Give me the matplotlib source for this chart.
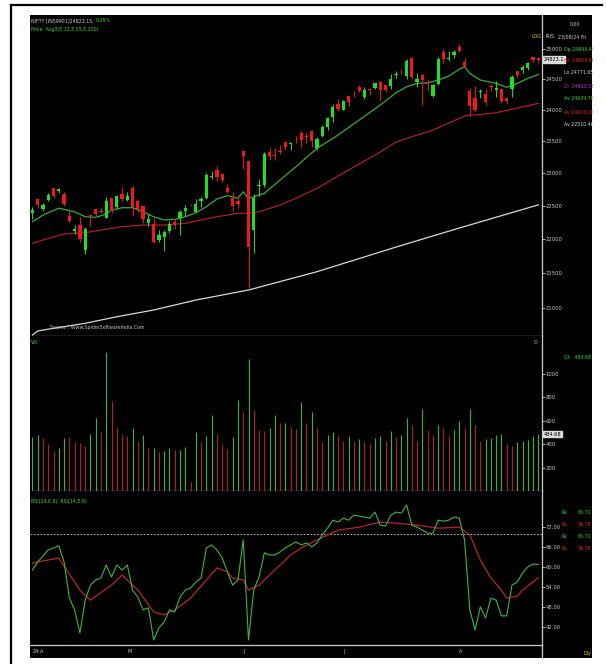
import matplotlib
matplotlib.use("Agg")
import matplotlib.pyplot as plt
import matplotlib.transforms as mtransforms
from matplotlib import font_manager
from matplotlib.lines import Line2D
from matplotlib.patches import Rectangle
from matplotlib.ticker import NullLocator

# NIFTY daily candles, 03 Apr 2024 .. 23 Aug 2024 (day index 0 .. 96)
opens = [22385, 22592, 22446, 22579, 22765, 22720, 22677, 22339, 22125, 22212,
         21830, 22350, 22447, 22421, 22316, 22620, 22475, 22679, 22580, 22766,
         22562, 22489, 22231, 22224, 21990, 22027, 22112, 22255, 22319, 22415,
         22512, 22404, 22576, 22614, 22930, 23038, 22977, 22763, 22617, 22568,
         23337, 23179, 22128, 22798, 22821, 23319, 23283, 23344, 23480, 23445,
         23570, 23629, 23586, 23661, 23382, 23577, 23724, 23881, 24086, 23993,
         24228, 24291, 24369, 24213, 24329, 24351, 24459, 24400, 24388, 24573,
         24615, 24543, 24854, 24445, 24568, 24444, 24230, 24423, 24943, 24839,
         24892, 25030, 24789, 24302, 24189, 24289, 24248, 24387, 24320, 24342,
         24184, 24334, 24636, 24648, 24680, 24864, 24845]
highs = [22475, 22619, 22540, 22697, 22768, 22775, 22704, 22427, 22213, 22326,
         22180, 22376, 22447, 22476, 22625, 22620, 22655, 22783, 22711, 22794,
         22588, 22499, 22368, 22307, 22131, 22132, 22270, 22298, 22432, 22503,
         22525, 22592, 22629, 22994, 23026, 23111, 22999, 22826, 22705, 22653,
         23338, 23179, 22671, 22910, 23320, 23412, 23389, 23441, 23481, 23490,
         23579, 23664, 23625, 23667, 23558, 23754, 23889, 24087, 24174, 24164,
         24236, 24309, 24401, 24363, 24345, 24443, 24461, 24402, 24592, 24635,
         24661, 24838, 24854, 24595, 24583, 24504, 24427, 24861, 24999, 24971,
         24984, 25078, 24851, 24350, 24382, 24337, 24340, 24420, 24472, 24359,
         24196, 24563, 24638, 24734, 24787, 24867, 24858]
lows = [22300, 22470, 22410, 22563, 22612, 22690, 22494, 22259, 22079, 21961,
        21777, 22198, 22349, 22384, 22305, 22385, 22441, 22568, 22568, 22348,
        22409, 22232, 22185, 21933, 21950, 21821, 22081, 22151, 22054, 22345,
        22495, 22404, 22483, 22601, 22908, 22872, 22858, 22685, 22417, 22465,
        23062, 21281, 21791, 22642, 22789, 23206, 23206, 23295, 23353, 23354,
        23473, 23412, 23470, 23398, 23350, 23562, 23673, 23805, 23985, 23992,
        24056, 24207, 24281, 24168, 24240, 24331, 24141, 24286, 24331, 24522,
        24588, 24504, 24508, 24362, 24074, 24307, 24211, 24410, 24774, 24798,
        24856, 24956, 24687, 23893, 23960, 24184, 24079, 24311, 24212, 24116,
        24099, 24204, 24522, 24607, 24654, 24784, 24772]
closes = [22434, 22515, 22514, 22666, 22642, 22754, 22519, 22272, 22147, 21996,
          22147, 22336, 22368, 22402, 22570, 22420, 22643, 22605, 22648, 22476,
          22442, 22303, 22302, 21958, 22055, 22104, 22218, 22201, 22404, 22466,
          22502, 22529, 22597, 22968, 22957, 22932, 22888, 22704, 22488, 22530,
          23264, 21884, 22620, 22821, 23290, 23259, 23264, 23323, 23399, 23466,
          23558, 23516, 23567, 23501, 23538, 23721, 23868, 24044, 24011, 24141,
          24124, 24286, 24302, 24324, 24320, 24433, 24324, 24316, 24502, 24587,
          24613, 24801, 24531, 24509, 24479, 24414, 24406, 24835, 24837, 24857,
          24951, 24968, 24718, 24056, 23993, 24298, 24117, 24368, 24347, 24139,
          24144, 24541, 24573, 24698, 24770, 24811, 24823]

volumes = [458, 481, 452, 401, 343, 363, 452, 458, 415, 406,
           386, 486, 624, 501, 1182, 767, 544, 486, 472, 538,
           429, 481, 366, 363, 329, 343, 366, 349, 349, 378,
           80, 506, 415, 466, 652, 486, 401, 358, 458, 772,
           672, 1130, 692, 521, 515, 535, 652, 578, 578, 549,
           529, 758, 578, 678, 544, 415, 480, 500, 470, 430,
           470, 430, 440, 420, 400, 450, 470, 430, 510, 460,
           480, 620, 560, 430, 700, 520, 480, 560, 540, 470,
           520, 600, 540, 700, 560, 429, 443, 452, 481, 486,
           401, 386, 415, 423, 435, 469, 485]
vol_colors = ("ggrrrggrrrrggrgrrrrgrgrgrggrggrgrggrrrggrgrrrggrgrrgrgrr"
              "ggrrgrgrrggrgrggrrgrrgrrggrgr"
              "rggggrrggggg")

# moving averages (day index, value)
ema13_days = [0, 2, 5, 8, 10, 12, 14, 15, 17, 19, 21, 23, 25, 27, 29, 31, 33, 35, 37, 39,
              40, 41, 42, 44, 47, 50, 54, 58, 62, 66, 69, 71, 73, 75, 77, 79, 81, 82, 83, 85,
              88, 90, 92, 94, 96]
ema13_vals = [22256, 22357, 22460, 22406, 22331, 22322, 22372, 22432, 22467, 22467,
              22406, 22331, 22282, 22292, 22331, 22391, 22482, 22600, 22650, 22610,
              22710, 22610, 22634, 22686, 22890, 23096, 23384, 23594, 23833, 24075,
              24275, 24373, 24429, 24439, 24484, 24550, 24661, 24704, 24594, 24484,
              24429, 24364, 24429, 24512, 24575]
ema55_days = [0, 2, 6, 10, 13, 17, 21, 25, 29, 32, 35, 39, 41, 43, 47, 50, 54, 58, 62, 66,
              69, 73, 76, 82, 88, 96]
ema55_vals = [21935, 21984, 22073, 22092, 22132, 22182, 22207, 22207, 22232, 22282,
              22331, 22383, 22383, 22406, 22508, 22610, 22762, 22952, 23138, 23325,
              23483, 23594, 23673, 23898, 23951, 24103]
ema200_days = [0, 1, 4, 10, 16, 23, 31, 41, 54, 69, 81, 96]
ema200_vals = [20622, 20678, 20715, 20785, 20877, 20972, 21113, 21256, 21520, 21880,
               22162, 22510]

# RSI(14) and its 9 day signal
rsi = [59.1, 61.5, 63.3, 65.1, 65.7, 66.3, 61.5, 50.7, 47.2, 40.3,
       50.1, 54.6, 56.1, 56.7, 60.6, 57.0, 60.6, 59.1, 60.6, 53.1,
       51.0, 47.2, 47.8, 38.2, 41.8, 43.6, 47.2, 46.6, 51.0, 53.1,
       53.7, 55.5, 56.7, 65.7, 66.6, 65.1, 62.7, 58.5, 54.6, 56.1,
       68.1, 38.2, 53.1, 57.0, 64.2, 63.6, 63.6, 64.5, 65.7, 66.6,
       67.5, 66.6, 67.2, 66.0, 67.2, 69.6, 71.6, 74.0, 73.4, 74.6,
       74.0, 75.5, 75.2, 74.9, 74.6, 76.4, 72.5, 72.2, 75.5, 76.4,
       76.1, 78.5, 72.5, 71.9, 71.0, 70.1, 70.1, 74.0, 73.7, 74.0,
       74.9, 74.6, 68.1, 47.2, 41.2, 48.1, 44.8, 50.7, 50.1, 45.4,
       45.4, 54.6, 55.5, 58.2, 60.0, 60.9, 60.71]
rsi_sig_days = [0, 5, 9, 11, 15, 17, 20, 23, 25, 27, 30, 33, 35, 37, 38, 40, 41, 43, 45, 47,
                49, 51, 54, 58, 62, 66, 69, 73, 77, 81, 83, 85, 87, 89, 90, 92, 93, 96]
rsi_sig_vals = [61.2, 62.7, 53.1, 50.1, 54.6, 57.6, 53.1, 46.6, 45.7, 47.2,
                50.7, 56.1, 59.7, 58.5, 56.7, 56.1, 53.1, 54.6, 57.6, 60.6,
                63.6, 65.7, 68.1, 71.0, 71.9, 73.4, 73.1, 72.5, 71.6, 71.9,
                69.6, 62.1, 56.7, 53.1, 50.7, 51.3, 53.1, 56.76]

month_days = [0, 18, 40, 59, 81]
month_labels = ["24:A", "M", "J", "J", "A"]

price_ticks = [21000, 21500, 22000, 22500, 23000, 23500, 24000, 24500, 25000]
vol_ticks = [200, 400, 600, 800, 1000]
rsi_ticks = [42, 48, 54, 60, 66, 72]

W, H = 606, 664
GREEN = "#1fe01f"
RED = "#f01818"
GREY = "#c8c8c8"


def pick_font():
  """Use a narrow face when one is installed, like the terminal font."""
  names = {f.name for f in font_manager.fontManager.ttflist}
  if "Liberation Sans Narrow" in names:
    return "Liberation Sans Narrow", 1.0
  return "DejaVu Sans", 0.72


FONT, SCALE = pick_font()
plt.rcParams["font.family"] = [FONT, "DejaVu Sans"]


def px_rect(x0, y0, x1, y1):
  return [x0 / W, 1 - y1 / H, (x1 - x0) / W, (y1 - y0) / H]


def ftext(fig, x, y, s, color, size=4.7, clip=False, **kw):
  t = fig.text(x / W, 1 - y / H, s, color=color, fontsize=size * SCALE,
               va="center", ha="left", zorder=5, **kw)
  if clip:
    # the terminal cuts the side column at the edge of the black area
    box = mtransforms.TransformedBbox(
      mtransforms.Bbox.from_extents(0, 0, 593 / W, 1), fig.transFigure)
    t.set_clip_box(box)
    t.set_clip_on(True)
  return t


def style_axes(ax):
  ax.set_facecolor("black")
  ax.set_xlim(-0.47, 96.7)
  ax.set_xticks([])
  for side in ["left", "top"]:
    ax.spines[side].set_visible(False)
  for side in ["right", "bottom"]:
    ax.spines[side].set_color(GREY)
    ax.spines[side].set_linewidth(0.9)
  ax.yaxis.tick_right()
  ax.tick_params(axis="y", which="major", length=2, width=0.6, color=GREY,
                 labelcolor=GREY, labelsize=5.2 * SCALE, pad=0.6)
  ax.yaxis.set_minor_locator(NullLocator())


fig = plt.figure(figsize=(W / 100, H / 100), dpi=100)
fig.patch.set_facecolor("white")

# black terminal area and the outer frame lines
fig.patches.append(Rectangle((30 / W, 1 - 658 / H), 562 / W, 643 / H,
                             transform=fig.transFigure, facecolor="black",
                             edgecolor="none", zorder=-10))
fig.add_artist(Line2D([11 / W, 11 / W], [0, 1 - 5 / H], transform=fig.transFigure,
                      color="black", lw=1.6, zorder=-5))
fig.add_artist(Line2D([11 / W, 602 / W], [1 - 5 / H, 1 - 5 / H], transform=fig.transFigure,
                      color="black", lw=1.6, zorder=-5))

ax_p = fig.add_axes(px_rect(30, 15, 542, 336))
ax_v = fig.add_axes(px_rect(30, 336, 542, 491))
ax_r = fig.add_axes(px_rect(30, 491, 542, 645))
for ax in (ax_p, ax_v, ax_r):
  style_axes(ax)

fig.add_artist(Line2D([542 / W, 542 / W], [1 - 658 / H, 1 - 645 / H],
                      transform=fig.transFigure, color=GREY, lw=0.9))

# ---- price panel ----
days = list(range(len(closes)))
ax_p.set_yscale("log")
ax_p.set_ylim(20608, 25580)
ax_p.set_yticks(price_ticks)
ax_p.set_yticklabels([str(t) for t in price_ticks])
ax_p.yaxis.set_minor_locator(NullLocator())

candle_cols = [GREEN if c >= o else RED for o, c in zip(opens, closes)]
ax_p.vlines(days, lows, highs, colors=candle_cols, lw=0.7, zorder=3)
bottoms = [min(o, c) for o, c in zip(opens, closes)]
heights = [max(abs(c - o), 4) for o, c in zip(opens, closes)]
ax_p.bar(days, heights, bottom=bottoms, width=0.62, color=candle_cols,
         edgecolor="none", zorder=4)

ax_p.plot(ema200_days, ema200_vals, color="#d8d8d8", lw=0.9, zorder=2)
ax_p.plot(ema55_days, ema55_vals, color="#a8202a", lw=0.9, zorder=2)
ax_p.plot(ema13_days, ema13_vals, color="#3caa3c", lw=0.9, zorder=2)

blend_p = mtransforms.blended_transform_factory(ax_p.transAxes, ax_p.transData)
ax_p.text(1.004, closes[-1], "24823.1", transform=blend_p, color="black",
          fontsize=5.0 * SCALE, va="center", ha="left", zorder=6, clip_on=False,
          bbox=dict(boxstyle="square,pad=0.15", fc="#dcdcdc", ec="#dcdcdc"))

# ---- volume panel ----
ax_v.set_ylim(0, 1322)
ax_v.set_yticks(vol_ticks)
ax_v.set_yticklabels([str(t) for t in vol_ticks])
vcols = ["#3cb43c" if c == "g" else "#b0202a" for c in vol_colors]
ax_v.vlines(days, 0, volumes, colors=vcols, lw=0.8)
blend_v = mtransforms.blended_transform_factory(ax_v.transAxes, ax_v.transData)
ax_v.text(1.004, 484.68, "484.68", transform=blend_v, color="black",
          fontsize=5.0 * SCALE, va="center", ha="left", zorder=6, clip_on=False,
          bbox=dict(boxstyle="square,pad=0.15", fc="#dcdcdc", ec="#dcdcdc"))

# ---- RSI panel ----
ax_r.set_ylim(36.7, 82.7)
ax_r.set_yticks(rsi_ticks)
ax_r.set_yticklabels(["%.2f" % t for t in rsi_ticks])
ax_r.axhline(70, color="#d0d0d0", lw=0.6, ls=(0, (2, 2)))
ax_r.plot(rsi_sig_days, rsi_sig_vals, color="#b4282d", lw=0.9)
ax_r.plot(days, rsi, color="#40b440", lw=0.8)

blend_r = mtransforms.blended_transform_factory(ax_r.transData, ax_r.transAxes)
for d, lab in zip(month_days, month_labels):
  ax_r.text(d, -0.042, lab, transform=blend_r, color=GREY,
            fontsize=5.0 * SCALE, va="center", ha="left")

# ---- header and side texts ----
ftext(fig, 31, 21, "NIFTY [IN59901]24823.15,", "#d0d0d0")
ftext(fig, 96, 21, "0.05%", "#30e030")
ftext(fig, 31, 30, "Price  Avg3(E,13,E,55,E,200)", "#30e030")
ftext(fig, 50, 328, "Source : Www.SpiderSoftwareIndia.Com", "#c0c0c0")
ftext(fig, 31, 343, "Vol", "#30e030")
ftext(fig, 534, 343, "O", "#c0c0c0")
ftext(fig, 31, 501, "RSI(14,E,9)  RSI(14,E,9)", "#30e030")

ftext(fig, 531, 37, "LOG", "#e0d040")
ftext(fig, 545, 37, "IRIS", "#d0d0d0")
ftext(fig, 570, 24, "0.00", "#d0d0d0")
ftext(fig, 558, 37, "23/08/24 Fri", "#d0d0d0", clip=True)
ftext(fig, 564, 49, "Op 24845.40", "#30e030", clip=True)
ftext(fig, 564, 61, "Hi  24858.40", "#f02020", clip=True)
ftext(fig, 564, 73, "Lo 24771.65", "#d0d0d0", clip=True)
ftext(fig, 564, 86, "Cl  24823.15", "#e020e0", clip=True)
ftext(fig, 564, 99, "Av 24574.79", "#30e030", clip=True)
ftext(fig, 564, 112, "Av 24103.20", "#f02020", clip=True)
ftext(fig, 564, 124, "Av 22510.46", "#d0d0d0", clip=True)

ftext(fig, 564, 357, "Qt   484.68", "#30e030", clip=True)

ftext(fig, 562, 512, "Rs", "#30e030")
ftext(fig, 578, 512, "60.71", "#30e030")
ftext(fig, 562, 524, "Rs", "#f02020")
ftext(fig, 578, 524, "56.76", "#f02020")
ftext(fig, 562, 537, "Rs", "#30e030")
ftext(fig, 578, 537, "60.71", "#30e030")
ftext(fig, 562, 549, "Rs", "#f02020")
ftext(fig, 578, 549, "56.76", "#f02020")
ftext(fig, 584, 653, "Dly", "#e0d040")

fig.savefig("out.png", dpi=100, facecolor="white")
